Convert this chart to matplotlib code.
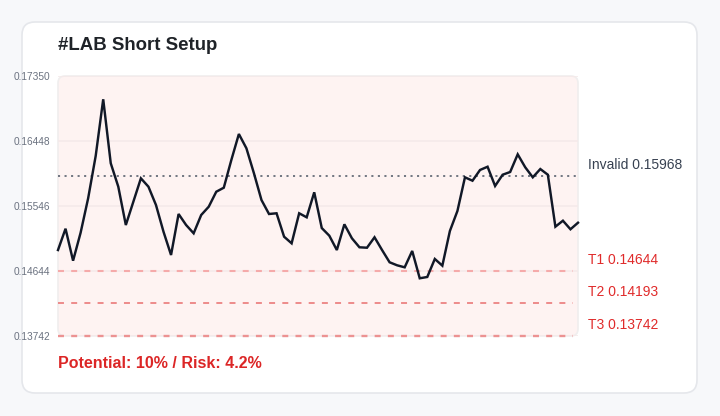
import numpy as np
import matplotlib
matplotlib.use("Agg")
import matplotlib.pyplot as plt
from matplotlib.patches import FancyBboxPatch

plt.rcParams['font.family'] = ['Liberation Sans', 'DejaVu Sans']
plt.rcParams['lines.scale_dashes'] = False

# ---------------- data ----------------
title = "#LAB Short Setup"
footer = "Potential: 10% / Risk: 4.2%"
prices = [
    0.14935, 0.15231, 0.14787, 0.15175, 0.15653, 0.16240, 0.17027, 0.16139, 0.15814, 0.15282,
    0.15606, 0.15930, 0.15814, 0.15560, 0.15189, 0.14866, 0.15435, 0.15282, 0.15167, 0.15421,
    0.15536, 0.15744, 0.15800, 0.16184, 0.16545, 0.16347, 0.16000, 0.15629, 0.15435, 0.15445,
    0.15120, 0.15028, 0.15445, 0.15389, 0.15736, 0.15240, 0.15134, 0.14935, 0.15292, 0.15098,
    0.14973, 0.14967, 0.15112, 0.14935, 0.14765, 0.14723, 0.14695, 0.14922, 0.14543, 0.14561,
    0.14811, 0.14718, 0.15199, 0.15477, 0.15944, 0.15897, 0.16046, 0.16091, 0.15824, 0.15980,
    0.16018, 0.16263, 0.16083, 0.15944, 0.16059, 0.15980, 0.15259, 0.15342, 0.15223, 0.15314,
]
y_ticks = [0.13742, 0.14644, 0.15546, 0.16448, 0.17350]
invalid_level = 0.15968
target_names = ["T1", "T2", "T3"]
target_levels = [0.14644, 0.14193, 0.13742]

# ---------------- figure ----------------
W, H = 720, 416
fig = plt.figure(figsize=(W / 100, H / 100), dpi=100, facecolor='#f7f8fa')
asp = W / H

def px_box(x0, y0, x1, y1, r, **kw):
    # pixel box (top-down y) -> rounded patch in figure coords
    return FancyBboxPatch((x0 / W, 1 - y1 / H), (x1 - x0) / W, (y1 - y0) / H,
                          boxstyle=f"round,pad=0,rounding_size={r / W}",
                          mutation_aspect=asp, transform=fig.transFigure, **kw)

fig.add_artist(px_box(22, 22, 697, 393, 13, facecolor='white',
                      edgecolor='#e5e7eb', linewidth=1.2, zorder=-3))
fig.add_artist(px_box(58, 76, 578, 336, 7, facecolor='#fef3f2',
                      edgecolor='#f0eeee', linewidth=1.2, zorder=-2))

ax = fig.add_axes([58 / W, 1 - 336 / H, 520 / W, 260 / H])
ax.set_facecolor('none')
for s in ax.spines.values():
    s.set_visible(False)

x = np.arange(len(prices))
ax.set_xlim(0, len(prices) - 1)
ax.set_ylim(y_ticks[0], y_ticks[-1])
ax.set_xticks([])
ax.set_yticks(y_ticks)
ax.set_yticklabels([f"{v:.5f}" for v in y_ticks])
ax.tick_params(axis='y', length=0, pad=5.5, labelsize=7.3, labelcolor='#6b7280')
ax.grid(axis='y', color='#f5eaea', linewidth=1.2)
ax.set_axisbelow(True)

# target lines
t_colors = ['#f5aaaa', '#e86f6f', '#ec9292']
t_widths = [1.5, 1.1, 1.7]
for name, lvl, c, lw in zip(target_names, target_levels, t_colors, t_widths):
    ax.axhline(lvl, xmax=0.99, color=c, linewidth=lw, linestyle=(0, (4.3, 5.2)), zorder=2, clip_on=False)
    ax.annotate(f"{name} {lvl:.5f}", xy=(1, lvl), xycoords=ax.get_yaxis_transform(),
                xytext=(10, 11), textcoords='offset pixels', ha='left', va='center',
                fontsize=10, color='#e02b2b', annotation_clip=False)

# invalidation line
ax.axhline(invalid_level, color='#4b5563', linewidth=1.1, linestyle=(0, (1.5, 3.2)), zorder=2)
ax.annotate(f"Invalid {invalid_level:.5f}", xy=(1, invalid_level), xycoords=ax.get_yaxis_transform(),
            xytext=(10, 11), textcoords='offset pixels', ha='left', va='center',
            fontsize=10, color='#374151', annotation_clip=False)

ax.plot(x, prices, color='#111827', linewidth=1.75, solid_joinstyle='miter', zorder=3, clip_on=False)

fig.text(58 / W, 1 - 46 / H, title, ha='left', va='center', fontsize=13.4,
         fontweight='bold', color='#1f2328')
fig.text(58 / W, 1 - 364 / H, footer, ha='left', va='center', fontsize=11.5,
         fontweight='bold', color='#dc2626')

fig.savefig("out.png", dpi=100, facecolor=fig.get_facecolor())
